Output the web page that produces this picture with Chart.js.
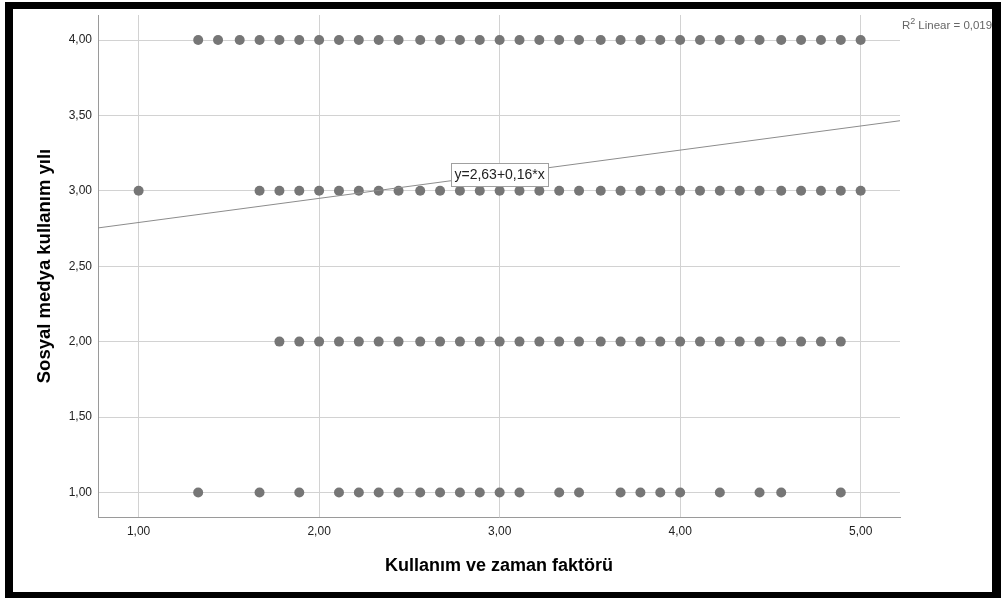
<!DOCTYPE html>
<html lang="tr">
<head>
    <meta charset="UTF-8">
    <title>Sosyal medya kullanım yılı - Kullanım ve zaman faktörü</title>
    <script src="https://cdn.jsdelivr.net/npm/chart.js"></script>
    <style>
        html, body {
            margin: 0;
            padding: 0;
            background: #fff;
        }
        .frame {
            position: absolute;
            left: 5px;
            top: 2px;
            width: 996px;
            height: 596px;
            box-sizing: border-box;
            border-style: solid;
            border-color: #000;
            border-width: 7px 9px 6px 8px;
            background: #fff;
        }
        #grafik {
            position: absolute;
            left: 0;
            top: 0;
        }
    </style>
</head>
<body>
    <div class="frame"></div>
    <canvas id="grafik" width="1003" height="601"></canvas>

    <script>
        // Kullanım ve zaman faktörü değerleri, her satır için (y = 4, 3, 2, 1)
        const xYil4 = [1.33, 1.44, 1.56, 1.67, 1.78, 1.89, 2.00, 2.11, 2.22, 2.33, 2.44, 2.56,
            2.67, 2.78, 2.89, 3.00, 3.11, 3.22, 3.33, 3.44, 3.56, 3.67, 3.78, 3.89, 4.00, 4.11,
            4.22, 4.33, 4.44, 4.56, 4.67, 4.78, 4.89, 5.00];
        const xYil3 = [1.00, 1.67, 1.78, 1.89, 2.00, 2.11, 2.22, 2.33, 2.44, 2.56, 2.67, 2.78,
            2.89, 3.00, 3.11, 3.22, 3.33, 3.44, 3.56, 3.67, 3.78, 3.89, 4.00, 4.11, 4.22, 4.33,
            4.44, 4.56, 4.67, 4.78, 4.89, 5.00];
        const xYil2 = [1.78, 1.89, 2.00, 2.11, 2.22, 2.33, 2.44, 2.56, 2.67, 2.78, 2.89, 3.00,
            3.11, 3.22, 3.33, 3.44, 3.56, 3.67, 3.78, 3.89, 4.00, 4.11, 4.22, 4.33, 4.44, 4.56,
            4.67, 4.78, 4.89];
        const xYil1 = [1.33, 1.67, 1.89, 2.11, 2.22, 2.33, 2.44, 2.56, 2.67, 2.78, 2.89, 3.00,
            3.11, 3.33, 3.44, 3.67, 3.78, 3.89, 4.00, 4.22, 4.44, 4.56, 4.89];
        const yDegerleri = [4, 3, 2, 1];

        // Doğrusal uyum
        const sabit = 2.63;
        const egim = 0.16;
        const r2 = '0,019';

        const xMin = 0.775, xMax = 5.218;
        const yMin = 0.837, yMax = 4.166;

        const noktalar = [];
        [xYil4, xYil3, xYil2, xYil1].forEach((dizi, i) => {
            dizi.forEach(x => noktalar.push({ x: x, y: yDegerleri[i] }));
        });

        const uyumCizgisi = [
            { x: xMin, y: sabit + egim * xMin },
            { x: xMax, y: sabit + egim * xMax }
        ];

        const virgul = v => v.toFixed(2).replace('.', ',');
        const yazi = '"Liberation Sans", Arial, sans-serif';

        // Denklem kutusu ve R2 yazısı
        const etiketEklentisi = {
            id: 'etiketler',
            afterDatasetsDraw(chart) {
                const ctx = chart.ctx;
                const xs = chart.scales.x, ys = chart.scales.y;
                const area = chart.chartArea;

                const cx = xs.getPixelForValue(3.0);
                const cy = ys.getPixelForValue(3.11);
                const metin = 'y=' + virgul(sabit) + '+' + virgul(egim) + '*x';
                ctx.save();
                ctx.font = '14px ' + yazi;
                const w = Math.round(ctx.measureText(metin).width + 7);
                const h = 23;
                const bx = Math.round(cx - w / 2) + 0.5;
                const by = Math.round(cy - h / 2) + 0.5;
                ctx.fillStyle = '#fff';
                ctx.fillRect(bx, by, w, h);
                ctx.strokeStyle = '#a0a0a0';
                ctx.lineWidth = 1;
                ctx.strokeRect(bx, by, w, h);
                ctx.fillStyle = '#222';
                ctx.textAlign = 'center';
                ctx.textBaseline = 'middle';
                ctx.fillText(metin, cx, cy + 1);

                // R2 Linear
                ctx.fillStyle = '#666';
                ctx.textAlign = 'left';
                ctx.textBaseline = 'alphabetic';
                ctx.font = '11.5px ' + yazi;
                let px = area.right + 2;
                const py = area.top + 14;
                ctx.fillText('R', px, py);
                px += ctx.measureText('R').width;
                ctx.font = '9px ' + yazi;
                ctx.fillText('2', px, py - 5);
                px += ctx.measureText('2').width + 3;
                ctx.font = '11.5px ' + yazi;
                ctx.fillText('Linear = ' + r2, px, py);
                ctx.restore();
            }
        };

        new Chart(document.getElementById('grafik'), {
            type: 'scatter',
            data: {
                datasets: [
                    {
                        label: 'Gözlemler',
                        data: noktalar,
                        backgroundColor: '#767676',
                        borderColor: '#767676',
                        borderWidth: 0,
                        pointRadius: 5,
                        pointHoverRadius: 5
                    },
                    {
                        type: 'line',
                        label: 'Doğrusal',
                        data: uyumCizgisi,
                        borderColor: '#8c8c8c',
                        borderWidth: 1,
                        pointRadius: 0,
                        fill: false,
                        order: -1
                    }
                ]
            },
            options: {
                responsive: false,
                devicePixelRatio: 1,
                animation: false,
                layout: {
                    padding: { left: 13, top: 15, right: 103, bottom: 9 }
                },
                plugins: {
                    legend: { display: false },
                    tooltip: { enabled: false }
                },
                scales: {
                    x: {
                        type: 'linear',
                        min: xMin,
                        max: xMax,
                        afterFit(scale) { scale.height = 75; },
                        grid: { color: '#d2d2d2', drawTicks: false },
                        border: { color: '#9a9a9a', width: 1 },
                        ticks: {
                            stepSize: 1,
                            includeBounds: false,
                            padding: 7,
                            color: '#222',
                            font: { family: yazi, size: 12 },
                            callback: v => virgul(v)
                        },
                        title: {
                            display: true,
                            text: 'Kullanım ve zaman faktörü',
                            color: '#000',
                            font: { family: yazi, size: 18, weight: 'bold' },
                            padding: { top: 0, bottom: 15 }
                        }
                    },
                    y: {
                        type: 'linear',
                        min: yMin,
                        max: yMax,
                        afterFit(scale) { scale.width = 85; },
                        grid: { color: '#d2d2d2', drawTicks: false },
                        border: { color: '#9a9a9a', width: 1 },
                        ticks: {
                            stepSize: 0.5,
                            includeBounds: false,
                            padding: 6,
                            color: '#222',
                            font: { family: yazi, size: 12 },
                            callback: v => virgul(v)
                        },
                        title: {
                            display: true,
                            text: 'Sosyal medya kullanım yılı',
                            color: '#000',
                            font: { family: yazi, size: 18.5, weight: 'bold' },
                            padding: { top: 21, bottom: 0 }
                        }
                    }
                }
            },
            plugins: [etiketEklentisi]
        });
    </script>
</body>
</html>
